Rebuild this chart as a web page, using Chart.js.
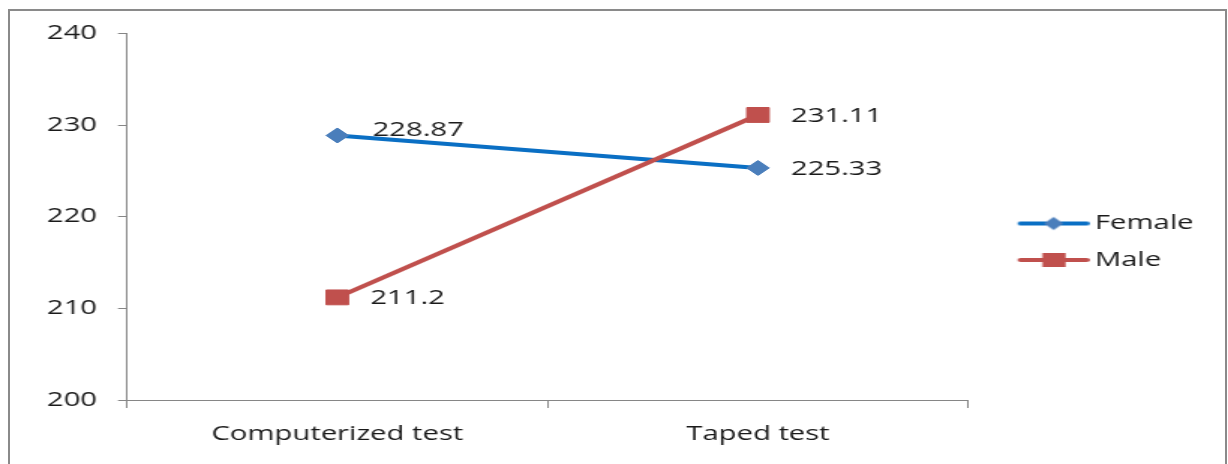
<!DOCTYPE html>
<html>
<head>
<meta charset="utf-8">
<script src="https://cdn.jsdelivr.net/npm/chart.js@4.4.1/dist/chart.umd.min.js"></script>
<style>
  html, body { margin: 0; padding: 0; background: #fff; }
  #wrap { position: relative; width: 1228px; height: 464px; overflow: hidden; }
  /* the source picture is an Excel chart stretched ~1.5x sideways, so the canvas is too */
  #stretch { position: absolute; left: 0; top: 0; width: 819px; height: 464px;
             transform: scaleX(1.49939); transform-origin: 0 0; }
  #frame { position: absolute; left: 8px; top: 9px; width: 1219px; height: 480px;
           border: 2px solid #8a8a8a; box-sizing: border-box; pointer-events: none; }
</style>
</head>
<body>
<div id="wrap">
  <div id="stretch"><canvas id="chart" width="819" height="464"></canvas></div>
  <div id="frame"></div>
</div>
<script>
const categories = ["Computerized test", "Taped test"];
const femaleScores = [228.87, 225.33];
const maleScores = [211.2, 231.11];
const yTicks = [200, 210, 220, 230, 240];

const FONT = "'Open Sans', 'Liberation Sans', sans-serif";
const FONT_SIZE = 19.5;
const TEXT = "#1a1a1a";
const AXIS_GREY = "#868686";
const BLUE_LINE = "#0A6FC4";
const BLUE_MARK = "#4A7EBB";
const RED = "#C0504D";

// legend swatch: line with the marker in the middle (transparent room on the left)
function legendSwatch(lineColor, markColor, shape) {
  const c = document.createElement("canvas");
  c.width = 70;
  c.height = 20;
  const g = c.getContext("2d");
  g.strokeStyle = lineColor;
  g.lineWidth = 4;
  g.lineCap = "round";
  g.beginPath();
  g.moveTo(24, 10);
  g.lineTo(68, 10);
  g.stroke();
  g.fillStyle = markColor;
  g.beginPath();
  if (shape === "diamond") {
    g.moveTo(39.5, 10);
    g.lineTo(46, 3.5);
    g.lineTo(52.5, 10);
    g.lineTo(46, 16.5);
    g.closePath();
  } else {
    g.rect(38.5, 3, 15.5, 14);
  }
  g.fill();
  return c;
}

const swatches = [
  legendSwatch(BLUE_LINE, BLUE_MARK, "diamond"),
  legendSwatch(RED, RED, "square"),
];

const valueLabels = {
  id: "valueLabels",
  afterDatasetsDraw(chart, args, opts) {
    const ctx = chart.ctx;
    ctx.save();
    ctx.font = FONT_SIZE + "px " + FONT;
    ctx.fillStyle = TEXT;
    ctx.textAlign = "left";
    ctx.textBaseline = "middle";
    chart.data.datasets.forEach((ds, i) => {
      chart.getDatasetMeta(i).data.forEach((pt, j) => {
        const n = (opts.nudge[i] && opts.nudge[i][j]) || [0, 0];
        ctx.fillText(String(ds.data[j]), pt.x + opts.dx + n[0], pt.y + opts.dy + n[1]);
      });
    });
    ctx.restore();
  },
};

new Chart(document.getElementById("chart"), {
  type: "line",
  data: {
    labels: categories,
    datasets: [
      {
        label: "Female",
        data: femaleScores,
        borderColor: BLUE_LINE,
        borderWidth: 4,
        pointStyle: "rectRot",
        pointRadius: 7.5,
        pointBackgroundColor: BLUE_MARK,
        pointBorderColor: BLUE_MARK,
        pointBorderWidth: 1,
        order: 1,
      },
      {
        label: "Male",
        data: maleScores,
        borderColor: RED,
        borderWidth: 4,
        pointStyle: "rect",
        pointRadius: 10.5,
        pointBackgroundColor: RED,
        pointBorderColor: RED,
        pointBorderWidth: 1,
        order: 0,
      },
    ],
  },
  options: {
    responsive: false,
    animation: false,
    events: [],
    layout: {
      padding: { left: 30.7, top: 33.5, right: 13, bottom: 14 },
    },
    scales: {
      x: {
        offset: true,
        grid: {
          offset: true,
          drawOnChartArea: false,
          color: AXIS_GREY,
          tickLength: 8,
        },
        border: { color: AXIS_GREY, width: 1 },
        ticks: {
          color: TEXT,
          padding: 15,
          maxRotation: 0,
          font: { family: FONT, size: FONT_SIZE },
        },
        afterFit: (scale) => { scale.height = 50; },
      },
      y: {
        min: yTicks[0],
        max: yTicks[yTicks.length - 1],
        afterBuildTicks: (scale) => { scale.ticks = yTicks.map((v) => ({ value: v })); },
        grid: {
          drawOnChartArea: false,
          color: AXIS_GREY,
          tickLength: 6,
        },
        border: { color: AXIS_GREY, width: 1 },
        ticks: {
          color: TEXT,
          padding: 14,
          font: { family: FONT, size: FONT_SIZE },
        },
        afterFit: (scale) => { scale.width = 54; },
      },
    },
    plugins: {
      tooltip: { enabled: false },
      legend: {
        position: "right",
        labels: {
          usePointStyle: true,
          pointStyleWidth: 57.7,
          padding: 17,
          color: TEXT,
          font: { family: FONT, size: FONT_SIZE },
          sort: (a, b) => a.datasetIndex - b.datasetIndex,
          generateLabels: (chart) =>
            Chart.defaults.plugins.legend.labels.generateLabels(chart).map((item) => {
              item.pointStyle = swatches[item.datasetIndex];
              return item;
            }),
        },
      },
      valueLabels: {
        dx: 22,
        dy: 1.5,
        nudge: { 0: [[1.5, -7]] },
      },
    },
  },
  plugins: [valueLabels],
});
</script>
</body>
</html>
